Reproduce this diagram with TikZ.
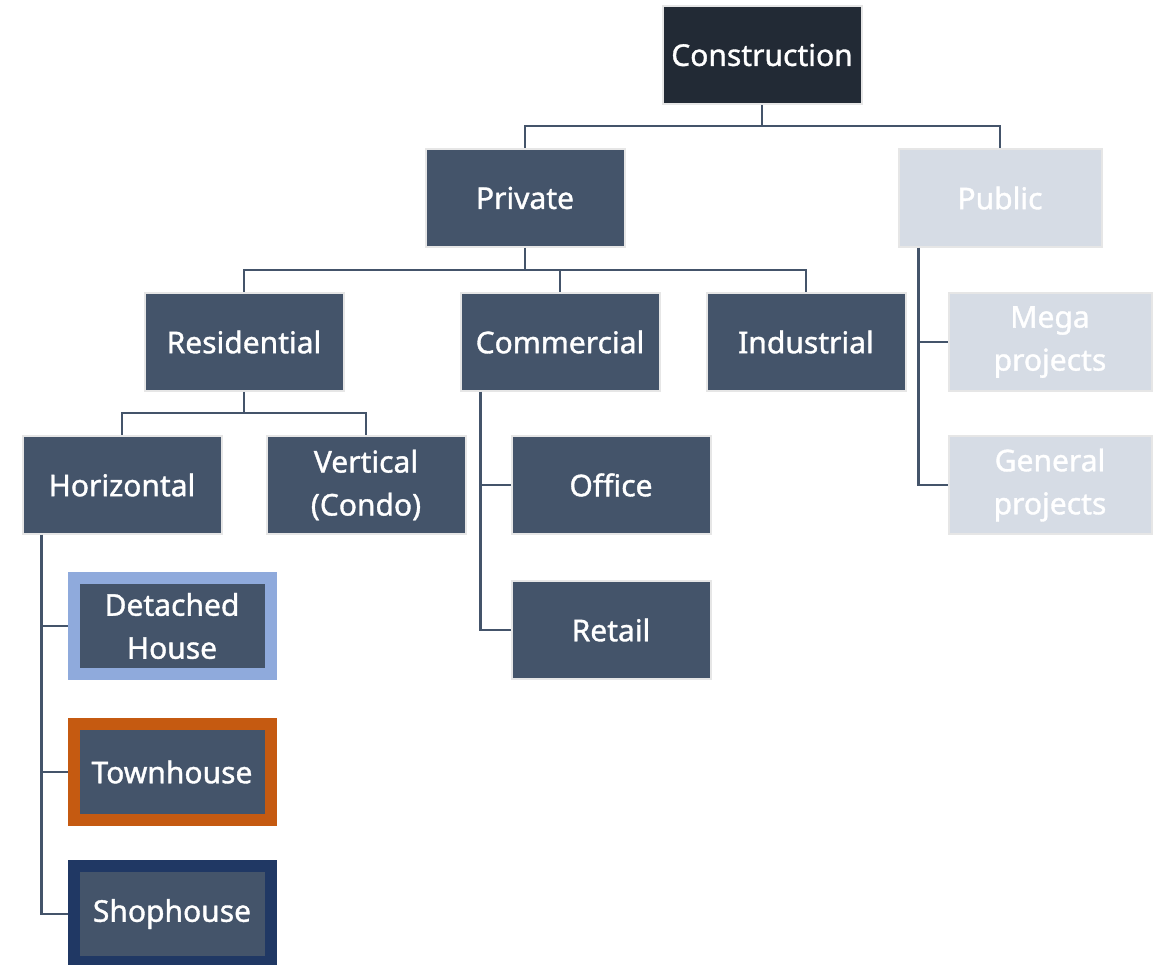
\documentclass[tikz,border=0pt]{standalone}
\usepackage{fontspec}
\setmainfont{Noto Sans}[FakeBold=1.2]
\usetikzlibrary{positioning}
\definecolor{slate}{HTML}{44546A}
\definecolor{night}{HTML}{222A35}
\definecolor{mist}{HTML}{D6DCE5}
\definecolor{rim}{HTML}{E6E6E6}
\definecolor{skyrim}{HTML}{8FAADC}
\definecolor{rustrim}{HTML}{C55A11}
\definecolor{navyrim}{HTML}{203864}

\begin{document}
\begin{tikzpicture}[x=1pt, y=-1pt,
	box/.style = {rectangle, draw=rim, line width=2pt, fill=slate, text=white,
		minimum width=199pt, minimum height=98pt, inner sep=0pt, align=center,
		font=\fontsize{30}{43}\selectfont},
	top/.style = {box, fill=night},
	pale/.style = {box, fill=mist, minimum width=203pt},
	house/.style = {% framed house types
		box, draw=#1, line width=12pt, minimum width=197pt, minimum height=96pt},
	link/.style = {draw=slate, line width=2.5pt}]
\useasboundingbox (0,0) rectangle (1163,965);

% levels
\node[top]  (con) at (762,55)  {Construction};
\node[box]  (pri) at (525,198) {Private};
\node[pale] (pub) at (1000,198) {Public};

\node[box]  (res) at (244,342) {Residential};
\node[box]  (com) at (560,342) {Commercial};
\node[box]  (ind) at (806,342) {Industrial};
\node[pale] (meg) at (1050,342) {Mega\\projects};

\node[box]  (hor) at (122,485) {Horizontal};
\node[box]  (ver) at (366,485) {Vertical\\(Condo)};
\node[box]  (off) at (611,485) {Office};
\node[pale] (gen) at (1050,485) {General\\projects};
\node[box, below=45pt of off] (ret) {Retail};

\node[house=skyrim]  (det) at (172,626) {Detached\\House};
\node[house=rustrim] (tow) at (172,772) {Townhouse};
\node[house=navyrim] (sho) at (172,914) {Shophouse};

% connectors
\draw[link] (con.south) -- ++(0,21) -| (pri.north);
\draw[link] (con.south) ++(0,21) -| (pub.north);
\draw[link] (pri.south) -- ++(0,22) -| (res.north);
\draw[link] (pri.south) ++(0,22) -| (com.north);
\draw[link] (pri.south) ++(0,22) -| (ind.north);
\draw[link] (res.south) -- ++(0,21) -| (hor.north);
\draw[link] (res.south) ++(0,21) -| (ver.north);
\draw[link] ([xshift=21pt]pub.south west) |- (meg.west);
\draw[link] ([xshift=21pt]pub.south west) |- (gen.west);
\draw[link] ([xshift=21pt]com.south west) |- (off.west);
\draw[link] ([xshift=21pt]com.south west) |- (ret.west);
\draw[link] ([xshift=20pt]hor.south west) |- (det.west);
\draw[link] ([xshift=20pt]hor.south west) |- (tow.west);
\draw[link] ([xshift=20pt]hor.south west) |- (sho.west);
\end{tikzpicture}
\end{document}
